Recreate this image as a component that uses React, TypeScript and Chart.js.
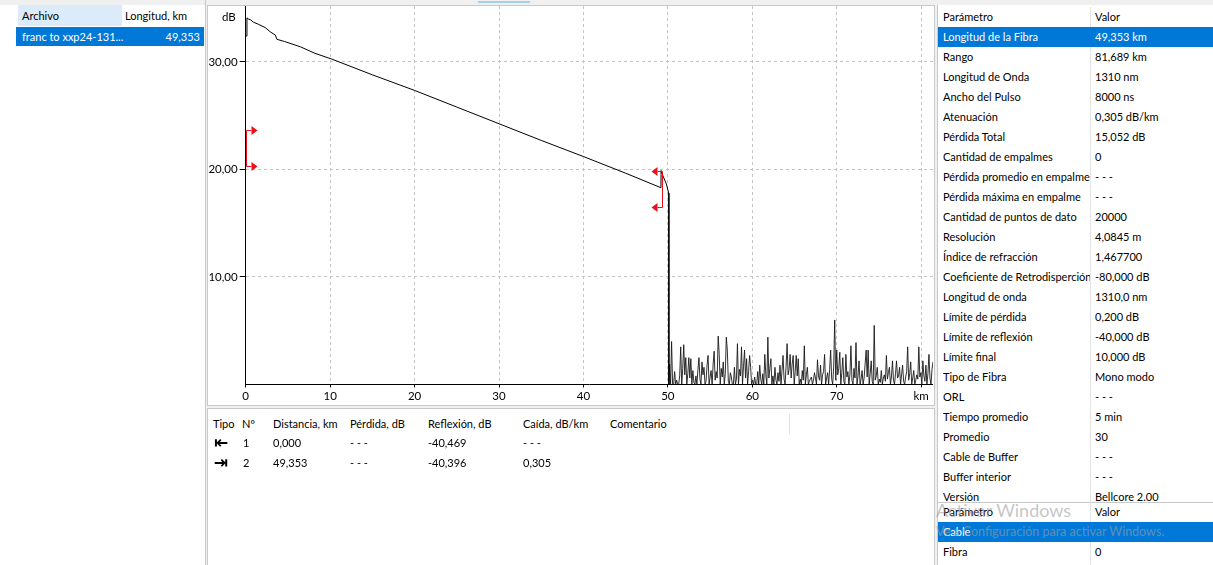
import React, { useEffect, useRef } from "react";
import { Chart, registerables } from "chart.js";

Chart.register(...registerables);

// ---------- data ----------
const TRACE_KM = [0.05, 0.15, 0.3, 0.6, 0.9, 1.5, 2.3, 2.9, 3.5, 3.7, 4.6, 6.5, 8.2, 10.2, 15, 20, 25, 30, 35, 40, 45, 49.18, 49.2, 49.42, 49.82, 50.1, 50.12];
const TRACE_DB = [32.4, 34.1, 34.0, 33.9, 33.7, 33.5, 33.2, 32.8, 32.5, 32.1, 31.9, 31.4, 30.8, 30.26, 28.8, 27.35, 25.8, 24.25, 22.7, 21.2, 19.65, 18.3, 19.9, 19.4, 18.65, 17.8, 0];

const NOISE_START_KM = 50.2;
const NOISE_STEP_KM = 0.12;
const NOISE_DB = [
  1.9, 0, 4.0, 0, 0, 1.2, 0, 0.4, 0, 0, 0.8, 3.5, 0, 1.5, 3.7, 0.9, 2.5, 0, 1.0, 2.5,
  0.6, 2.4, 0, 1.3, 0.2, 0, 0.8, 0, 1.4, 2.5, 0.5, 0, 2.1, 0.9, 1.6, 0, 0.3, 1.8, 2.7, 0,
  0.7, 1.3, 0, 1.9, 3.1, 0.4, 1.2, 0.6, 4.5, 2.8, 0, 1.5, 0.7, 2.1, 0, 1.0, 4.4, 3.2, 0.3, 0,
  1.1, 0.7, 0, 0, 1.6, 0, 0.5, 3.8, 0, 1.4, 0.8, 3.5, 0, 1.7, 3.2, 0.6, 2.4, 0, 1.2, 2.7,
  1.6, 0, 0.4, 0, 0.7, 0, 0, 1.2, 0, 1.8, 0.5, 0, 1.0, 0, 2.8, 0.9, 0, 4.4, 0.6, 1.5,
  2.4, 0, 0.8, 0, 1.6, 0.4, 0, 1.1, 0.3, 1.8, 0, 1.3, 2.7, 0.5, 0, 1.7, 3.8, 0.9, 1.4, 2.8,
  0.6, 1.9, 2.7, 0, 1.2, 2.7, 0.8, 2.4, 0, 0.5, 0, 1.3, 0.4, 3.6, 0, 0.9, 1.6, 0, 0.3, 0.5,
  0.7, 0, 0.4, 1.1, 0.6, 0, 2.3, 0.8, 0.4, 1.8, 0, 0.9, 1.2, 2.8, 0, 0.6, 1.1, 0, 1.4, 3.2,
  0.5, 0, 1.7, 6.0, 0.4, 3.2, 0.9, 1.5, 3.0, 0, 1.1, 2.5, 0.3, 0, 2.8, 0.7, 1.2, 0, 0.9, 3.6,
  0.4, 0, 1.5, 0.6, 3.9, 0, 0.8, 2.2, 0, 0.5, 1.3, 0, 0.6, 1.9, 3.2, 0.7, 3.2, 0, 1.0, 2.2,
  0.3, 0, 5.5, 0.4, 0.8, 1.6, 0, 0.5, 0.2, 1.3, 0, 0.6, 0.9, 0.3, 2.7, 0.5, 1.1, 1.6, 0, 0.7,
  2.2, 0.4, 0, 1.0, 2.2, 0.6, 0.8, 1.6, 0, 0.9, 1.8, 0.3, 0, 0.7, 1.2, 3.5, 0.4, 1.0, 2.1, 0,
  0.6, 1.3, 0, 0.4, 0.9, 0.5, 3.5, 0.7, 1.1, 0, 2.2, 0.8, 0.3, 1.8, 0, 1.0, 2.8, 0.6, 0, 1.4,
  2.1,
];

const EVENT_KM = [0, 49.353];
const EVENT_TOP_DB = [23.7, 19.9];
const EVENT_BOTTOM_DB = [20.3, 16.5];
const EVENT_DIR = [1, -1];

const X_MIN = 0;
const X_MAX = 81.4;
const Y_MIN = 0;
const Y_MAX = 35.2;
const X_TICKS = [0, 10, 20, 30, 40, 50, 60, 70, 80];
const X_TICK_LABELS = ["0", "10", "20", "30", "40", "50", "60", "70", "km"];
const Y_TICKS = [10, 20, 30];
const Y_TICK_LABELS = ["10,00", "20,00", "30,00"];

const FILE_NAME = "franc to xxp24-131...";
const FILE_LENGTH = "49,353";

const EVT_HEADERS = ["Tipo", "Nº", "Distancia, km", "Pérdida, dB", "Reflexión, dB", "Caída, dB/km", "Comentario"];
const EVT_ICONS = ["⇤", "⇥"];
const EVT_NO = ["1", "2"];
const EVT_DIST = ["0,000", "49,353"];
const EVT_LOSS = ["- - -", "- - -"];
const EVT_REFL = ["-40,469", "-40,396"];
const EVT_SLOPE = ["- - -", "0,305"];

const PARAM_NAMES = [
  "Longitud de la Fibra", "Rango", "Longitud de Onda", "Ancho del Pulso", "Atenuación", "Pérdida Total",
  "Cantidad de empalmes", "Pérdida promedio en empalme", "Pérdida máxima en empalme", "Cantidad de puntos de dato",
  "Resolución", "Índice de refracción", "Coeficiente de Retrodisperción", "Longitud de onda", "Límite de pérdida",
  "Límite de reflexión", "Límite final", "Tipo de Fibra", "ORL", "Tiempo promedio", "Promedio",
  "Cable de Buffer", "Buffer interior", "Versión",
];
const PARAM_VALUES = [
  "49,353 km", "81,689 km", "1310 nm", "8000 ns", "0,305 dB/km", "15,052 dB", "0", "- - -", "- - -", "20000",
  "4,0845 m", "1,467700", "-80,000 dB", "1310,0 nm", "0,200 dB", "-40,000 dB", "10,000 dB", "Mono modo", "- - -",
  "5 min", "30", "- - -", "- - -", "Bellcore 2.00",
];
const PARAM2_NAMES = ["Cable", "Fibra"];
const PARAM2_VALUES = ["", "0"];

// ---------- styles ----------
const UI_FONT = 'Lato, "Noto Sans", sans-serif';
const UI_SIZE = 11;
const SEL_BLUE = "#0078d7";
const RED = "#e8101a";

const eventMarkers = {
  id: "eventMarkers",
  afterDatasetsDraw(chart: any) {
    const { ctx, scales } = chart;
    const x = scales.x;
    const y = scales.y;
    ctx.save();
    ctx.strokeStyle = RED;
    ctx.fillStyle = RED;
    ctx.lineWidth = 1;
    EVENT_KM.forEach((km, i) => {
      const dir = EVENT_DIR[i];
      const px = Math.round(x.getPixelForValue(km)) + 0.5;
      const yt = Math.round(y.getPixelForValue(EVENT_TOP_DB[i])) + 0.5;
      const yb = Math.round(y.getPixelForValue(EVENT_BOTTOM_DB[i])) + 0.5;
      ctx.beginPath();
      ctx.moveTo(px, yt);
      ctx.lineTo(px, yb);
      [yt, yb].forEach((yy) => {
        ctx.moveTo(px, yy);
        ctx.lineTo(px + dir * 5, yy);
      });
      ctx.stroke();
      [yt, yb].forEach((yy) => {
        ctx.beginPath();
        ctx.moveTo(px + dir * 5, yy - 4.5);
        ctx.lineTo(px + dir * 11, yy);
        ctx.lineTo(px + dir * 5, yy + 4.5);
        ctx.closePath();
        ctx.fill();
      });
    });
    ctx.restore();
  },
};

function Txt(props: { x: number; y: number; children: any; style?: any }) {
  return (
    <div
      style={{
        position: "absolute",
        left: props.x,
        top: props.y - 10,
        height: 20,
        lineHeight: "20px",
        whiteSpace: "nowrap",
        ...(props.style || {}),
      }}
    >
      {props.children}
    </div>
  );
}

function Box(props: { x: number; y: number; w: number; h: number; style?: any; children?: any }) {
  return (
    <div style={{ position: "absolute", left: props.x, top: props.y, width: props.w, height: props.h, ...(props.style || {}) }}>
      {props.children}
    </div>
  );
}

export default function App() {
  const canvasRef = useRef<HTMLCanvasElement>(null);

  useEffect(() => {
    const traceData = TRACE_KM.map((k, i) => ({ x: k, y: TRACE_DB[i] }));
    const noiseData = NOISE_DB.map((v, i) => ({ x: NOISE_START_KM + i * NOISE_STEP_KM, y: v }));
    const tickFont = { family: UI_FONT, size: 11.5 };
    const chart = new Chart(canvasRef.current as HTMLCanvasElement, {
      type: "line",
      data: {
        datasets: [
          {
            data: traceData,
            borderColor: "#000",
            borderWidth: 1,
            pointRadius: 0,
            tension: 0,
            fill: false,
          },
          {
            data: [traceData[traceData.length - 1], ...noiseData],
            borderColor: "#1a1a1a",
            borderWidth: 0.9,
            pointRadius: 0,
            tension: 0,
            fill: false,
          },
        ],
      },
      options: {
        animation: false,
        responsive: false,
        maintainAspectRatio: false,
        layout: { padding: 0 },
        plugins: { legend: { display: false }, tooltip: { enabled: false } },
        scales: {
          x: {
            type: "linear",
            min: X_MIN,
            max: X_MAX,
            afterBuildTicks: (s: any) => {
              s.ticks = X_TICKS.map((v) => ({ value: v }));
            },
            afterFit: (s: any) => {
              s.height = 19.5;
              s.paddingLeft = 0;
              s.paddingRight = 0;
            },
            ticks: {
              callback: (_v: any, i: number) => X_TICK_LABELS[i],
              font: tickFont,
              color: "#000",
              padding: 2,
              maxRotation: 0,
              autoSkip: false,
            },
            grid: { color: "#c4c4c4", lineWidth: 1, tickColor: "#000", tickLength: 3, tickBorderDash: [] },
            border: { display: true, color: "#000", width: 1, dash: [3, 3] },
          },
          y: {
            type: "linear",
            min: Y_MIN,
            max: Y_MAX,
            afterBuildTicks: (s: any) => {
              s.ticks = Y_TICKS.map((v) => ({ value: v }));
            },
            afterFit: (s: any) => {
              s.width = 37.7;
              s.paddingTop = 0;
              s.paddingBottom = 0;
            },
            ticks: {
              callback: (_v: any, i: number) => Y_TICK_LABELS[i],
              font: tickFont,
              color: "#000",
              padding: 2,
            },
            grid: { color: "#c4c4c4", lineWidth: 1, tickColor: "#000", tickLength: 6, tickBorderDash: [] },
            border: { display: true, color: "#000", width: 1, dash: [3, 3] },
          },
        },
      },
      plugins: [eventMarkers],
    } as any);
    return () => chart.destroy();
  }, []);

  const evtCols = [213, 242, 273, 350, 428, 523, 610];

  return (
    <div
      style={{
        position: "absolute",
        left: 0,
        top: 0,
        width: 1213,
        height: 565,
        overflow: "hidden",
        background: "#f0f0f0",
        fontFamily: UI_FONT,
        fontSize: UI_SIZE,
        color: "#000",
      }}
    >
      {/* top splitter highlight */}
      <Box x={478} y={1} w={52} h={2} style={{ background: "#a9cdee" }} />

      {/* left file panel */}
      <Box x={0} y={5} w={205} h={560} style={{ background: "#fff" }} />
      <Box x={18} y={5} w={104} h={21} style={{ background: "#dcebf9" }} />
      <Txt x={22} y={16}>Archivo</Txt>
      <Txt x={125} y={16}>Longitud, km</Txt>
      <Box x={16} y={27} w={188} h={19} style={{ background: SEL_BLUE }} />
      <Txt x={22} y={36.5} style={{ color: "#fff" }}>{FILE_NAME}</Txt>
      <Txt x={100} y={36.5} style={{ color: "#fff", width: 100, textAlign: "right" }}>{FILE_LENGTH}</Txt>
      <Box x={205} y={0} w={1} h={565} style={{ background: "#c8c8c8" }} />

      {/* chart panel */}
      <Box x={207} y={5} w={728} h={401} style={{ background: "#fff", border: "1px solid #c8c8c8", boxSizing: "border-box" }} />
      <canvas
        ref={canvasRef}
        width={725}
        height={398}
        style={{ position: "absolute", left: 208, top: 6, width: 725, height: 398 }}
      />
      <Txt x={222} y={17} style={{ fontSize: 11.5 }}>dB</Txt>

      {/* events table panel */}
      <Box x={207} y={408} w={728} h={157} style={{ background: "#fff", borderTop: "1px solid #c8c8c8", borderLeft: "1px solid #c8c8c8", borderRight: "1px solid #c8c8c8", boxSizing: "border-box" }} />
      {EVT_HEADERS.map((h, i) => (
        <Txt key={h} x={evtCols[i]} y={424}>{h}</Txt>
      ))}
      <Box x={789} y={414} w={1} h={20} style={{ background: "#e0e0e0" }} />
      {EVT_NO.map((n, r) => {
        const yc = 443 + r * 20;
        return (
          <React.Fragment key={n}>
            <Txt x={214} y={yc - 1} style={{ fontFamily: '"DejaVu Sans", sans-serif', fontSize: 17, fontWeight: "bold" }}>{EVT_ICONS[r]}</Txt>
            <Txt x={evtCols[1] + 1} y={yc}>{n}</Txt>
            <Txt x={evtCols[2]} y={yc}>{EVT_DIST[r]}</Txt>
            <Txt x={evtCols[3]} y={yc}>{EVT_LOSS[r]}</Txt>
            <Txt x={evtCols[4]} y={yc}>{EVT_REFL[r]}</Txt>
            <Txt x={evtCols[5]} y={yc}>{EVT_SLOPE[r]}</Txt>
          </React.Fragment>
        );
      })}

      {/* right parameter panel */}
      <Box x={937} y={5} w={276} h={560} style={{ background: "#fff", borderLeft: "1px solid #c8c8c8", boxSizing: "border-box" }} />
      <Box x={1090} y={7} w={1} h={495} style={{ background: "#e3e3e3" }} />
      <Txt x={943} y={17}>Parámetro</Txt>
      <Txt x={1095} y={17}>Valor</Txt>
      <Box x={938} y={27} w={275} h={20} style={{ background: SEL_BLUE }} />
      {PARAM_NAMES.map((p, i) => {
        const yc = 37 + i * 20;
        const col = i === 0 ? "#fff" : "#000";
        return (
          <React.Fragment key={p + i}>
            <Txt x={943} y={yc} style={{ color: col, width: 147, overflow: "hidden" }}>{p}</Txt>
            <Txt x={1095} y={yc} style={{ color: col }}>{PARAM_VALUES[i]}</Txt>
          </React.Fragment>
        );
      })}

      {/* second parameter table */}
      <Box x={938} y={502} w={275} h={63} style={{ background: "#fff", borderTop: "1px solid #c8c8c8", boxSizing: "border-box" }} />
      <Box x={1090} y={502} w={1} h={63} style={{ background: "#e3e3e3" }} />
      <Txt x={943} y={512}>Parámetro</Txt>
      <Txt x={1095} y={512}>Valor</Txt>
      <Box x={938} y={522} w={275} h={20} style={{ background: SEL_BLUE }} />
      {PARAM2_NAMES.map((p, i) => {
        const yc = 532 + i * 20;
        const col = i === 0 ? "#fff" : "#000";
        return (
          <React.Fragment key={p}>
            <Txt x={943} y={yc} style={{ color: col }}>{p}</Txt>
            <Txt x={1095} y={yc} style={{ color: col }}>{PARAM2_VALUES[i]}</Txt>
          </React.Fragment>
        );
      })}

      {/* watermark */}
      <Txt x={936} y={510} style={{ fontSize: 18, color: "rgba(140,140,140,0.5)" }}>Activar Windows</Txt>
      <Txt x={936} y={532} style={{ fontSize: 12.5, color: "rgba(160,160,160,0.6)" }}>Ve a Configuración para activar Windows.</Txt>
    </div>
  );
}
